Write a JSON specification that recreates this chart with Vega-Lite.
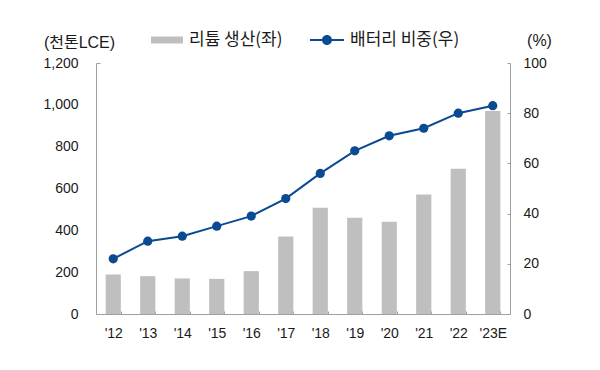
{
  "$schema": "https://vega.github.io/schema/vega-lite/v6.json",
  "width": 414,
  "height": 251,
  "autosize": {"type": "none"},
  "padding": {"left": 96, "top": 63, "right": 90, "bottom": 56},
  "background": "white",
  "config": {
    "view": {"stroke": null},
    "font": "Liberation Sans, Arial, 'Noto Sans CJK KR', sans-serif",
    "axis": {
      "labelFont": "Liberation Sans, Arial, sans-serif",
      "labelFontSize": 14,
      "labelColor": "#1a1a1a",
      "titleFont": "Liberation Sans, 'Noto Sans CJK KR', sans-serif",
      "titleFontSize": 16,
      "titleFontWeight": "normal",
      "titleColor": "#1a1a1a",
      "domainColor": "#a0a0a0",
      "tickColor": "#a0a0a0",
      "grid": false
    },
    "legend": {
      "labelFont": "'Noto Sans CJK KR', sans-serif",
      "labelFontSize": 17,
      "labelColor": "#1a1a1a"
    }
  },
  "data": {
    "values": [
      {"year": "'12", "lithium": 189, "battery": 22},
      {"year": "'13", "lithium": 181, "battery": 29},
      {"year": "'14", "lithium": 170, "battery": 31},
      {"year": "'15", "lithium": 168, "battery": 35},
      {"year": "'16", "lithium": 205, "battery": 39},
      {"year": "'17", "lithium": 370, "battery": 46},
      {"year": "'18", "lithium": 508, "battery": 56},
      {"year": "'19", "lithium": 460, "battery": 65},
      {"year": "'20", "lithium": 441, "battery": 71},
      {"year": "'21", "lithium": 571, "battery": 74},
      {"year": "'22", "lithium": 695, "battery": 80},
      {"year": "'23E", "lithium": 971, "battery": 83}
    ]
  },
  "encoding": {
    "x": {
      "field": "year",
      "type": "nominal",
      "sort": null,
      "scale": {"paddingInner": 0.56, "paddingOuter": 0.28},
      "axis": {
        "title": null,
        "labelAngle": 0,
        "tickBand": "extent",
        "tickSize": -3,
        "labelPadding": 15
      }
    }
  },
  "layer": [
    {
      "mark": {"type": "bar", "color": "#BFBFBF"},
      "encoding": {
        "y": {
          "field": "lithium",
          "type": "quantitative",
          "scale": {"domain": [0, 1200]},
          "axis": {
            "title": "(천톤LCE)",
            "titleAngle": 0,
            "titleAlign": "center",
            "titleBaseline": "middle",
            "titleX": -17,
            "titleY": -21,
            "values": [0, 200, 400, 600, 800, 1000, 1200],
            "format": ",.0f",
            "ticks": true,
            "tickSize": -4,
            "tickOpacity": {"condition": {"test": "datum.value == 1200", "value": 1}, "value": 0},
            "labelPadding": 22
          }
        },
        "color": {
          "datum": "리튬 생산(좌)",
          "scale": {"range": ["#BFBFBF"]},
          "legend": {
            "title": null,
            "orient": "none",
            "legendX": 61,
            "legendY": -33,
            "symbolType": "M-1.6,-0.35H1.6V0.35H-1.6Z",
            "symbolSize": 400,
            "symbolStrokeWidth": 0,
            "labelOffset": 12
          }
        }
      }
    },
    {
      "encoding": {
        "y": {
          "field": "battery",
          "type": "quantitative",
          "scale": {"domain": [0, 100]},
          "axis": {
            "orient": "right",
            "title": "(%)",
            "titleAngle": 0,
            "titleAlign": "center",
            "titleBaseline": "middle",
            "titleX": 29,
            "titleY": -23,
            "values": [0, 20, 40, 60, 80, 100],
            "tickSize": -3,
            "labelPadding": 16
          }
        }
      },
      "layer": [
        {
          "mark": {"type": "line", "strokeWidth": 2},
          "encoding": {
            "stroke": {
              "datum": "배터리 비중(우)",
              "scale": {"range": ["#0A4A90"]},
              "legend": {
                "title": null,
                "orient": "none",
                "legendX": 221,
                "legendY": -33,
                "symbolType": "M-1.7,-0.1H1.7V0.1H-1.7Z M0.5,0A0.5,0.5,0,1,1,-0.5,0A0.5,0.5,0,1,1,0.5,0Z",
                "symbolSize": 400,
                "symbolFillColor": "#0A4A90",
                "symbolStrokeWidth": 0,
                "labelOffset": 13
              }
            }
          }
        },
        {
          "mark": {"type": "circle", "size": 85, "color": "#0A4A90", "opacity": 1},
          "encoding": {}
        }
      ]
    }
  ],
  "resolve": {"scale": {"y": "independent"}}
}
